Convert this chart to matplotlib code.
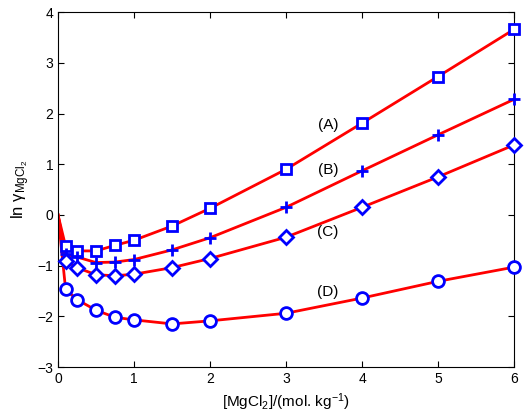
import matplotlib
matplotlib.use("Agg")
import matplotlib.pyplot as plt

plt.rcParams['font.family'] = ['Liberation Sans', 'DejaVu Sans']
plt.rcParams['mathtext.fontset'] = 'custom'
plt.rcParams['mathtext.rm'] = 'Liberation Sans'
plt.rcParams['mathtext.it'] = 'Liberation Sans'
plt.rcParams['mathtext.default'] = 'rm'

x = [0.1, 0.25, 0.5, 0.75, 1.0, 1.5, 2.0, 3.0, 4.0, 5.0, 6.0]
yA = [-0.62, -0.71, -0.71, -0.60, -0.50, -0.22, 0.13, 0.90, 1.81, 2.73, 3.66]
yB = [-0.78, -0.83, -0.94, -0.93, -0.88, -0.69, -0.45, 0.15, 0.87, 1.58, 2.28]
yC = [-0.90, -1.04, -1.18, -1.20, -1.17, -1.04, -0.86, -0.44, 0.15, 0.75, 1.38]
yD = [-1.47, -1.67, -1.88, -2.02, -2.07, -2.15, -2.09, -1.94, -1.64, -1.31, -1.03]
labels = ['(A)', '(B)', '(C)', '(D)']
label_y = [1.77, 0.88, -0.34, -1.52]
label_x = 3.55
markers = ['s', '+', 'D', 'o']
msizes = [7.5, 9, 7.5, 8.5]

fig = plt.figure(figsize=(5.24, 4.18), dpi=100)
ax = fig.add_axes([0.1107, 0.122, 0.8703, 0.849])

for ys, m, ms in zip([yA, yB, yC, yD], markers, msizes):
    ax.plot([0.0] + x, [0.0] + ys, color='red', lw=2, zorder=2)
    ax.plot(x, ys, linestyle='none', marker=m, markerfacecolor='white',
            markeredgecolor='blue', markeredgewidth=2, markersize=ms,
            zorder=3, clip_on=False)

for lab, ly in zip(labels, label_y):
    ax.text(label_x, ly, lab, fontsize=11, ha='center', va='center')

ax.set_xlim(0, 6)
ax.set_ylim(-3, 4)
ax.set_xticks(range(0, 7))
ax.set_yticks(range(-3, 5))
ax.set_yticklabels(['\u22123', '\u22122', '\u22121', '0', '1', '2', '3', '4'])
ax.tick_params(direction='in', top=True, right=True, labelsize=10, length=4)
ax.set_xlabel(r'[MgCl$_2$]/(mol. kg$^{-1}$)', fontsize=11)
ax.set_ylabel(r'ln $\gamma_{\mathrm{MgCl}_2}$', fontsize=12)
fig.savefig('out.png', dpi=100)
